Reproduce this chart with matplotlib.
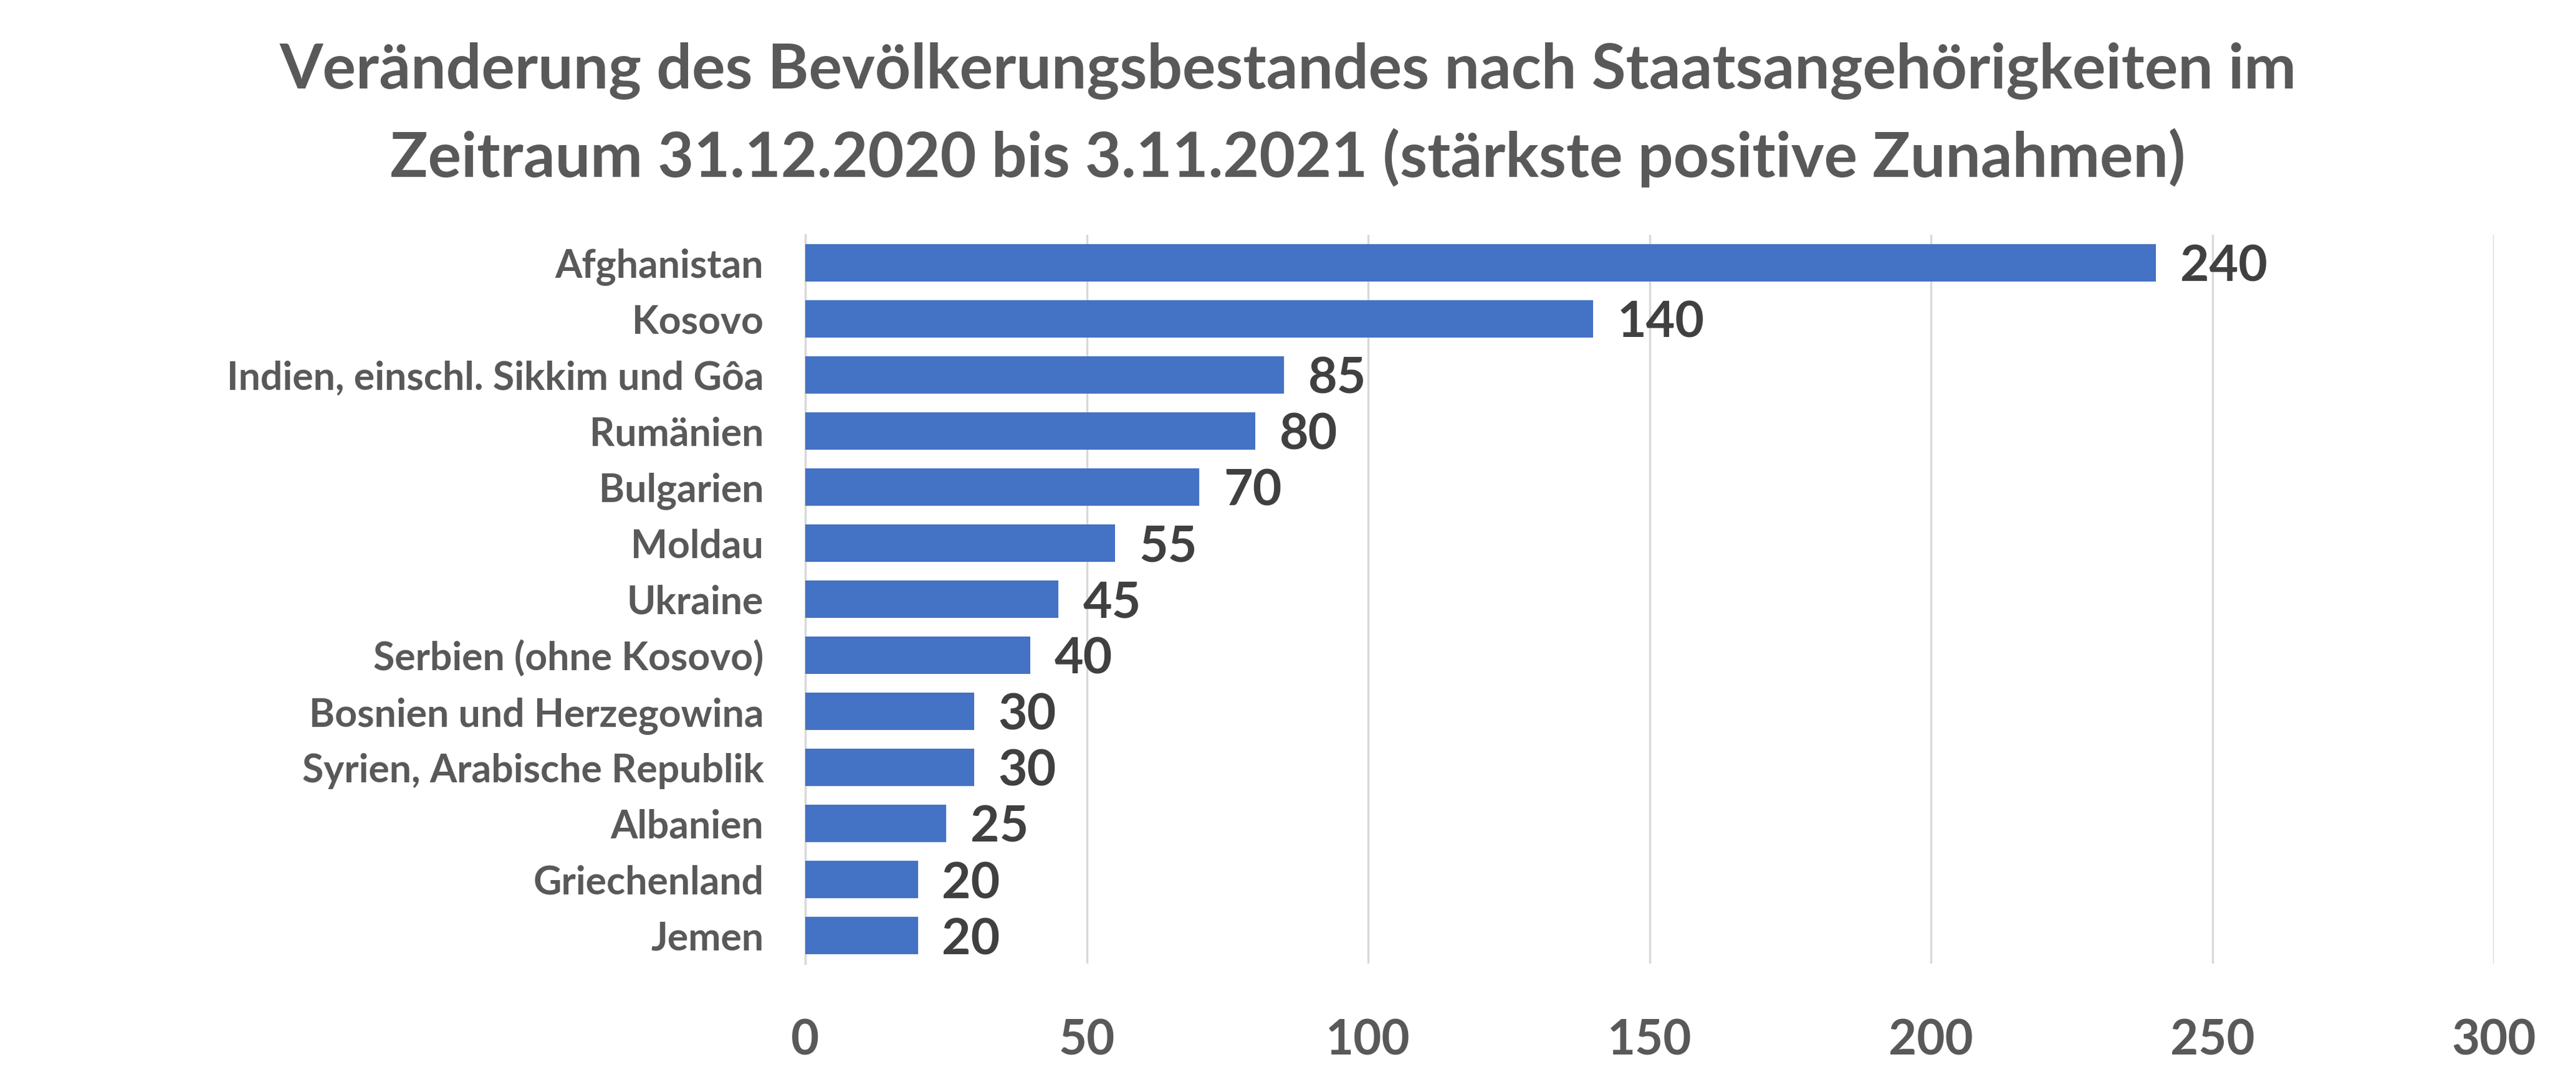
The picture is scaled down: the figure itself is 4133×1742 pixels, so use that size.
import numpy as np
import matplotlib.pyplot as plt

# daten
laender = ['Afghanistan', 'Kosovo', 'Indien, einschl. Sikkim und Gôa', 'Rumänien',
           'Bulgarien', 'Moldau', 'Ukraine', 'Serbien (ohne Kosovo)',
           'Bosnien und Herzegowina', 'Syrien, Arabische Republik', 'Albanien',
           'Griechenland', 'Jemen']
zunahme = [240, 140, 85, 80, 70, 55, 45, 40, 30, 30, 25, 20, 20]
x_ticks = [0, 50, 100, 150, 200, 250, 300]

titel = ('Veränderung des Bevölkerungsbestandes nach Staatsangehörigkeiten im\n'
         'Zeitraum 31.12.2020 bis 3.11.2021 (stärkste positive Zunahmen)')

plt.rcParams['font.family'] = ['Lato', 'DejaVu Sans']

fig = plt.figure(figsize=(41.33, 17.42), dpi=100)
ax = fig.add_axes([0.3126, 0.1119, 0.9681 - 0.3126, 0.7836 - 0.1119])

pos = np.arange(len(laender))
ax.barh(pos, zunahme, height=0.67, color='#4472C4', zorder=3)
ax.set_ylim(len(laender) - 0.5, -0.5)
ax.set_xlim(0, 300)

ax.set_yticks(pos)
ax.set_yticklabels(laender, fontsize=45, fontweight='bold', color='#595959')
ax.set_xticks(x_ticks)
ax.set_xticklabels([str(t) for t in x_ticks], fontsize=56, fontweight='bold', color='#595959')
ax.tick_params(axis='y', length=0, pad=48)
ax.tick_params(axis='x', length=0, pad=64)

ax.grid(axis='x', color='#D9D9D9', linewidth=2.5, zorder=0)
for s in ['top', 'right', 'bottom']:
    ax.spines[s].set_visible(False)
ax.spines['left'].set_color('#D9D9D9')
ax.spines['left'].set_linewidth(2.5)

# werte neben den balken
for p, v in zip(pos, zunahme):
    ax.annotate(str(v), xy=(v, p), xytext=(28, -5), textcoords='offset points',
                ha='left', va='center', fontsize=58, fontweight='bold', color='#404040')

fig.text(0.5, 0.894, titel, ha='center', va='center', fontsize=72,
         fontweight='bold', color='#595959', linespacing=1.575)

fig.savefig('out.png', dpi=100)
